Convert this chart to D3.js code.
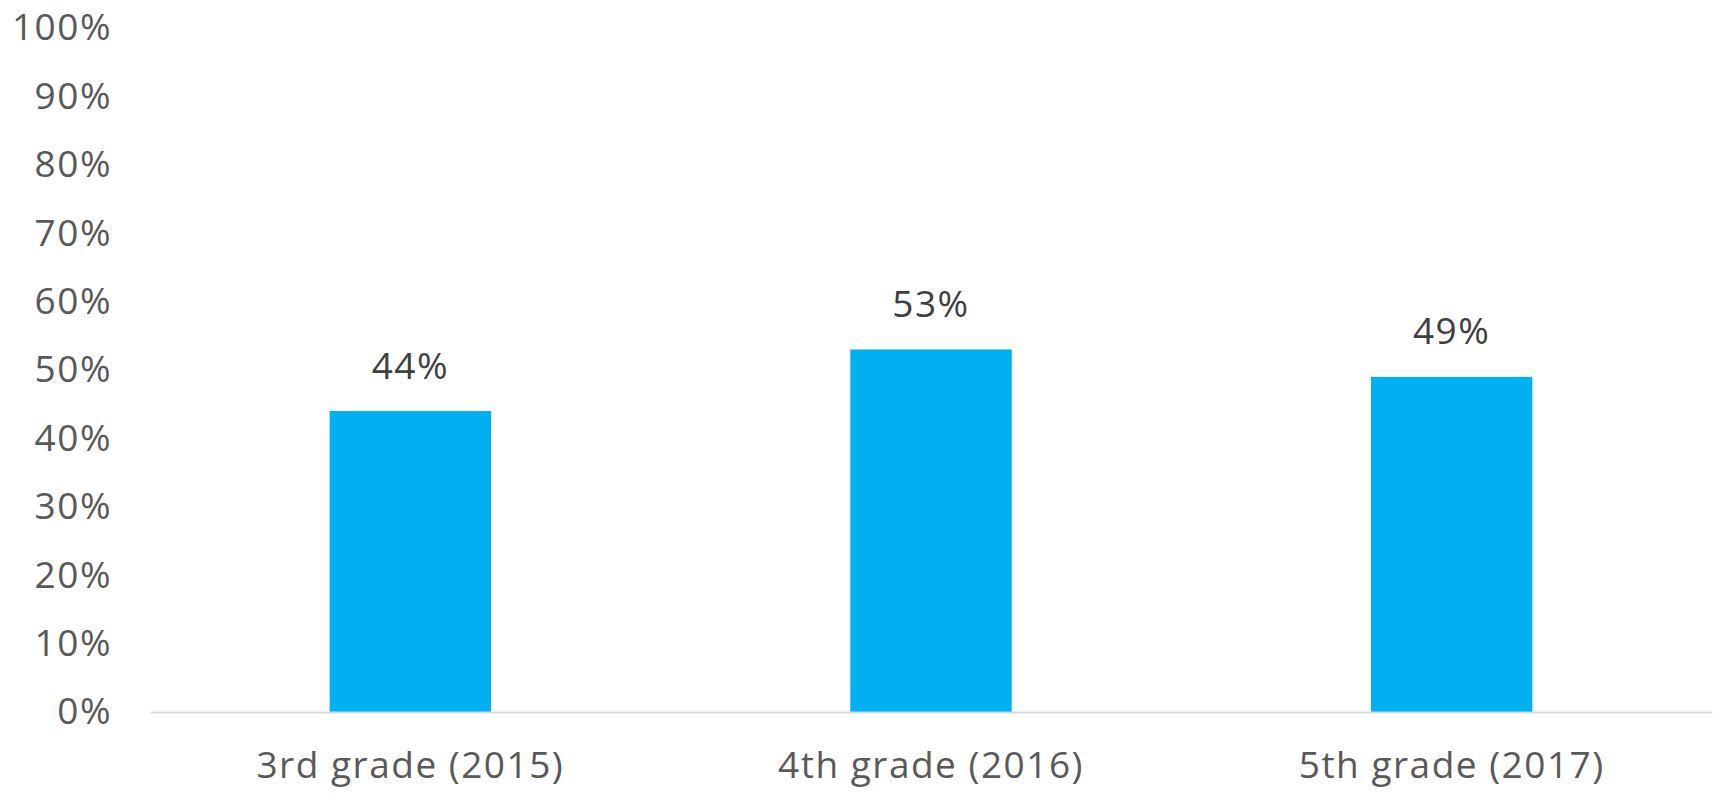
<!DOCTYPE html>
<html lang="en">
<head>
  <meta charset="UTF-8" />
  <title>Grade results</title>
  <script src="https://d3js.org/d3.v7.min.js"></script>
  <style>
    body { margin: 0; background: #fff; font-family: 'Open Sans', sans-serif; }
    svg { display: block; }
    .lbl { font-family: 'Open Sans', sans-serif; font-size: 37px; letter-spacing: 1.5px; }
  </style>
</head>
<body>
  <div id="chart"></div>
  <script>
    // --- data ---
    const categories = ["3rd grade (2015)", "4th grade (2016)", "5th grade (2017)"];
    const values = [0.44, 0.53, 0.49];
    const yTicks = [0, 0.1, 0.2, 0.3, 0.4, 0.5, 0.6, 0.7, 0.8, 0.9, 1.0];

    // --- sizes ---
    const W = 1714, H = 795;
    const margin = { top: 28, right: 2, bottom: 83, left: 150 };
    const width = W - margin.left - margin.right,
          height = H - margin.top - margin.bottom;

    const svg = d3.select("#chart").append("svg")
      .attr("width", W).attr("height", H)
      .append("g")
      .attr("transform", `translate(${margin.left},${margin.top})`);

    // Excel-style bands: bars centred in equal slots
    const x = d3.scaleBand().domain(categories).range([0, width])
      .paddingInner(0.69).paddingOuter(0.345);
    const y = d3.scaleLinear().domain([0, 1]).range([height, 0]);

    // --- y axis labels (no line) ---
    const yAxis = svg.append("g")
      .call(d3.axisLeft(y).tickValues(yTicks).tickFormat(d3.format(".0%")).tickSize(0).tickPadding(38));
    yAxis.select(".domain").remove();
    yAxis.selectAll("text")
      .attr("class", "lbl")
      .attr("fill", "#595959");

    // --- bars ---
    svg.selectAll(".bar")
      .data(values)
      .join("rect")
      .attr("class", "bar")
      .attr("x", (d, i) => x(categories[i]))
      .attr("y", d => y(d))
      .attr("width", x.bandwidth())
      .attr("height", d => height - y(d))
      .attr("fill", "#00B0F0");

    // --- value labels ---
    svg.selectAll(".val")
      .data(values)
      .join("text")
      .attr("class", "val lbl")
      .attr("x", (d, i) => x(categories[i]) + x.bandwidth() / 2)
      .attr("y", d => y(d) - 47)
      .attr("text-anchor", "middle")
      .attr("dominant-baseline", "central")
      .attr("fill", "#404040")
      .text(d => d3.format(".0%")(d));

    // --- x axis ---
    const xAxis = svg.append("g")
      .attr("transform", `translate(0,${height})`)
      .call(d3.axisBottom(x).tickSize(0).tickPadding(40));
    xAxis.select(".domain").attr("stroke", "#d9d9d9").attr("stroke-width", 2);
    xAxis.selectAll("text")
      .attr("class", "lbl")
      .attr("fill", "#595959");
  </script>
</body>
</html>
